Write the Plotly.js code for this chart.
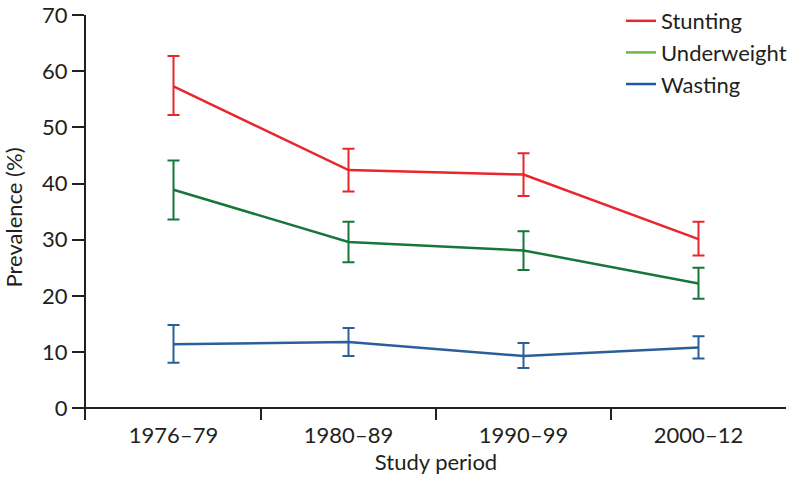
<!DOCTYPE html>
<html>
<head>
<meta charset="utf-8">
<script src="https://cdn.plot.ly/plotly-3.0.1.min.js"></script>
<style>html,body{margin:0;padding:0;background:#fff}#chart{width:788px;height:477px}</style>
</head>
<body>
<div id="chart"></div>
<script>
const categories = ["1976–79", "1980–89", "1990–99", "2000–12"];
const stunting      = [57.3, 42.4, 41.6, 30.1];
const stuntingLow   = [52.2, 38.6, 37.8, 27.2];
const stuntingHigh  = [62.7, 46.2, 45.4, 33.2];
const underweight     = [38.9, 29.6, 28.1, 22.2];
const underweightLow  = [33.6, 26.0, 24.6, 19.5];
const underweightHigh = [44.1, 33.2, 31.5, 25.0];
const wasting     = [11.4, 11.8, 9.3, 10.8];
const wastingLow  = [8.1, 9.3, 7.15, 8.85];
const wastingHigh = [14.8, 14.3, 11.6, 12.8];
const seriesNames = ["Stunting", "Underweight", "Wasting"];
const yTicks = [0, 10, 20, 30, 40, 50, 60, 70];

const lineColors = ["#e8262b", "#17763a", "#2b5f9a"];
const legendColors = ["#e8262b", "#6ab946", "#1c5aa8"];
const FONT = "Lato, 'Open Sans', sans-serif";
const FS = 22;
const TXT = "#231f20";

function seriesTrace(vals, lo, hi, color) {
  return {
    x: categories, y: vals, type: "scatter", mode: "lines",
    line: {color: color, width: 2.5}, showlegend: false, hoverinfo: "skip",
    error_y: {
      type: "data", symmetric: false,
      array: hi.map((h, i) => h - vals[i]),
      arrayminus: lo.map((l, i) => vals[i] - l),
      color: color, thickness: 2, width: 6
    }
  };
}
function legendTrace(name, color) {
  return {x: [null], y: [null], type: "scatter", mode: "lines", name: name,
          line: {color: color, width: 2.5}, showlegend: true};
}

const data = [
  seriesTrace(stunting, stuntingLow, stuntingHigh, lineColors[0]),
  seriesTrace(underweight, underweightLow, underweightHigh, lineColors[1]),
  seriesTrace(wasting, wastingLow, wastingHigh, lineColors[2]),
  legendTrace(seriesNames[0], legendColors[0]),
  legendTrace(seriesNames[1], legendColors[1]),
  legendTrace(seriesNames[2], legendColors[2])
];

const layout = {
  width: 788, height: 477,
  margin: {l: 86, r: 2, t: 15, b: 57, autoexpand: false},
  paper_bgcolor: "#fff", plot_bgcolor: "#fff",
  font: {family: FONT, size: FS, color: TXT},
  xaxis: {
    type: "category", range: [-0.5, 3.5],
    tickson: "boundaries", ticks: "inside", ticklen: 12, tickwidth: 2, tickcolor: TXT,
    showline: false, showgrid: false, zeroline: false,
    tickfont: {family: FONT, size: FS, color: TXT},
    ticklabelstandoff: 0,
    title: {text: "Study period", font: {family: FONT, size: FS, color: TXT}, standoff: 4},
    automargin: true, fixedrange: true
  },
  yaxis: {
    range: [-2.1, 70.02], tickvals: yTicks, ticktext: yTicks.map(String),
    ticks: "outside", ticklen: 12, tickwidth: 2, tickcolor: TXT,
    ticklabeloverflow: "allow",
    showline: true, linecolor: TXT, linewidth: 2,
    showgrid: false, zeroline: true, zerolinecolor: TXT, zerolinewidth: 2,
    tickfont: {family: FONT, size: FS, color: TXT},
    title: {text: "Prevalence (%)", font: {family: FONT, size: FS, color: TXT}, standoff: 16},
    automargin: true, fixedrange: true
  },
  legend: {
    x: (621 - 86) / 700, xref: "paper", xanchor: "left",
    y: 1.037, yref: "paper", yanchor: "top",
    font: {family: FONT, size: FS, color: TXT},
    bgcolor: "rgba(0,0,0,0)", borderwidth: 0, traceorder: "normal",
    itemwidth: 30
  },
  showlegend: true
};

Plotly.newPlot("chart", data, layout, {displayModeBar: false, staticPlot: true});
</script>
</body>
</html>
